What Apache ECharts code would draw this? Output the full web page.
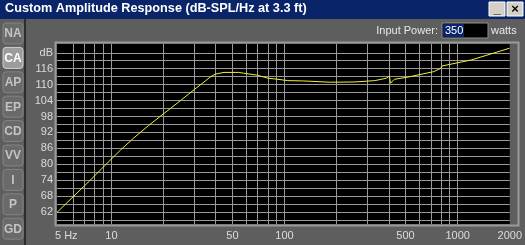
<!DOCTYPE html>
<html><head><meta charset="utf-8">
<script src="https://cdn.jsdelivr.net/npm/echarts@6/dist/echarts.min.js"></script>
<style>html,body{margin:0;padding:0;background:#5e5e5e;}#c{width:525px;height:245px;}</style>
</head><body><div id="c"></div>
<script>
// ---- data ----
const freqHz = [4.85, 7.47, 9.09, 11.3, 13.46, 16.4, 19.9, 24.2, 30.2, 37.5, 40.0, 44.7, 54.3, 58, 69, 80.5, 91.7, 104.5, 127, 184, 255, 332, 387, 404, 409, 431, 513, 728, 801, 810, 1201, 1210, 1992];
const splDb  = [61.9, 73.7, 79.3, 85.4, 89.9, 94.6, 98.9, 103.2, 108.2, 113.0, 114.0, 114.6, 114.6, 114.3, 113.6, 112.4, 112.0, 111.5, 111.4, 110.9, 111.0, 111.5, 112.4, 113.2, 110.5, 112.0, 112.8, 114.9, 116.2, 117.0, 119.3, 119.8, 123.7];
const xGridHz = [6, 7, 8, 9, 10, 20, 30, 40, 50, 60, 70, 80, 90, 100, 200, 300, 400, 500, 600, 700, 800, 900, 1000];
const xLabelHz = [5, 10, 50, 100, 500, 1000, 2000];
const yGridDb = [59, 62, 65, 68, 71, 74, 77, 80, 83, 86, 89, 92, 95, 98, 101, 104, 107, 110, 113, 116, 119, 122];
const yLabelDb = [62, 68, 74, 80, 86, 92, 98, 104, 110, 116, 122];
const tabs = ['NA', 'CA', 'AP', 'EP', 'CD', 'VV', 'I', 'P', 'GD'];
const titleText = 'Custom Amplitude Response (dB-SPL/Hz at 3.3 ft)';
const inputPower = '350';

const chart = echarts.init(document.getElementById('c'), null, {renderer: 'canvas'});
const FONT = '"Liberation Sans", Arial, sans-serif';

const graphics = [];
// title bar
graphics.push({type: 'rect', shape: {x: 0, y: 0, width: 525, height: 19}, style: {fill: '#0a246a'}, z: 10});
graphics.push({type: 'text', x: 5, y: 2, style: {text: titleText, fill: '#ffffff', font: 'bold 12.7px ' + FONT}, z: 11});
// window buttons
[[489, '_'], [507, '×']].forEach(([bx, g]) => {
  graphics.push({type: 'rect', shape: {x: bx, y: 2, width: 16, height: 14}, style: {fill: '#d4d0c8', stroke: '#ffffff', lineWidth: 1}, z: 11});
  graphics.push({type: 'text', x: bx + 8, y: 9, style: {text: g, fill: '#000', font: 'bold 13px ' + FONT, align: 'center', verticalAlign: 'middle'}, z: 12});
});
// sidebar separator
graphics.push({type: 'rect', shape: {x: 24, y: 19, width: 2, height: 226}, style: {fill: '#2e2e2e'}, z: 10});
// tabs
tabs.forEach((t, i) => {
  const ty = 23 + i * 24.4;
  const sel = t === 'CA';
  graphics.push({type: 'rect', shape: {x: 3, y: ty, width: 20, height: 21, r: 3}, style: {fill: sel ? '#9c9c9c' : '#6a6a6a', stroke: sel ? '#d0d0d0' : '#848484', lineWidth: 1}, z: 10});
  graphics.push({type: 'text', x: 13, y: ty + 11, style: {text: t, fill: sel ? '#ffffff' : '#c4c4c4', font: 'bold 12px ' + FONT, align: 'center', verticalAlign: 'middle'}, z: 11});
});
// input power
graphics.push({type: 'text', x: 438, y: 31, style: {text: 'Input Power:', fill: '#e8e8e8', font: '11px ' + FONT, align: 'right', verticalAlign: 'middle'}, z: 10});
graphics.push({type: 'rect', shape: {x: 442, y: 23, width: 46, height: 15}, style: {fill: '#000000', stroke: '#909090', lineWidth: 1}, z: 10});
graphics.push({type: 'rect', shape: {x: 443, y: 24, width: 21, height: 13}, style: {fill: '#0a246a'}, z: 11});
graphics.push({type: 'text', x: 445, y: 31, style: {text: inputPower, fill: '#ffffff', font: '11px ' + FONT, verticalAlign: 'middle'}, z: 12});
graphics.push({type: 'text', x: 491, y: 31, style: {text: 'watts', fill: '#e8e8e8', font: '11px ' + FONT, verticalAlign: 'middle'}, z: 10});
// plot frame
graphics.push({type: 'rect', shape: {x: 55.5, y: 42.5, width: 463, height: 183}, style: {fill: null, stroke: '#9a9a9a', lineWidth: 2}, z: 1});

chart.setOption({
  animation: false,
  backgroundColor: '#5e5e5e',
  grid: {left: 57, right: 8, top: 44, bottom: 21, show: true, backgroundColor: '#000000', borderWidth: 0},
  xAxis: {
    type: 'log', min: 4.85, max: 2000, logBase: 10,
    axisLine: {show: false},
    axisTick: {show: false, customValues: xGridHz},
    splitLine: {show: true, lineStyle: {color: '#9a9a9a', width: 1}},
    minorSplitLine: {show: false},
    axisLabel: {customValues: xLabelHz, color: '#dcdcdc', fontFamily: FONT, fontSize: 11, margin: 6,
      formatter: v => (Math.abs(v - 5) < 0.01 ? '{f|5 Hz}' : String(Math.round(v))),
      rich: {f: {color: '#dcdcdc', fontFamily: FONT, fontSize: 11, padding: [0, 0, 0, 14]}}}
  },
  yAxis: {
    type: 'value', min: 57.5, max: 125.3,
    axisLine: {show: false},
    axisTick: {show: false, customValues: yGridDb},
    splitLine: {show: true, lineStyle: {color: '#9a9a9a', width: 1}},
    axisLabel: {customValues: yLabelDb, color: '#dcdcdc', fontFamily: FONT, fontSize: 11, margin: 4,
      formatter: v => (v === 122 ? 'dB' : String(v))}
  },
  series: [{
    type: 'line', data: freqHz.map((f, i) => [f, splDb[i]]),
    showSymbol: false, smooth: false,
    lineStyle: {color: '#f0f040', width: 1}, z: 5
  }],
  graphic: graphics
});
</script></body></html>
